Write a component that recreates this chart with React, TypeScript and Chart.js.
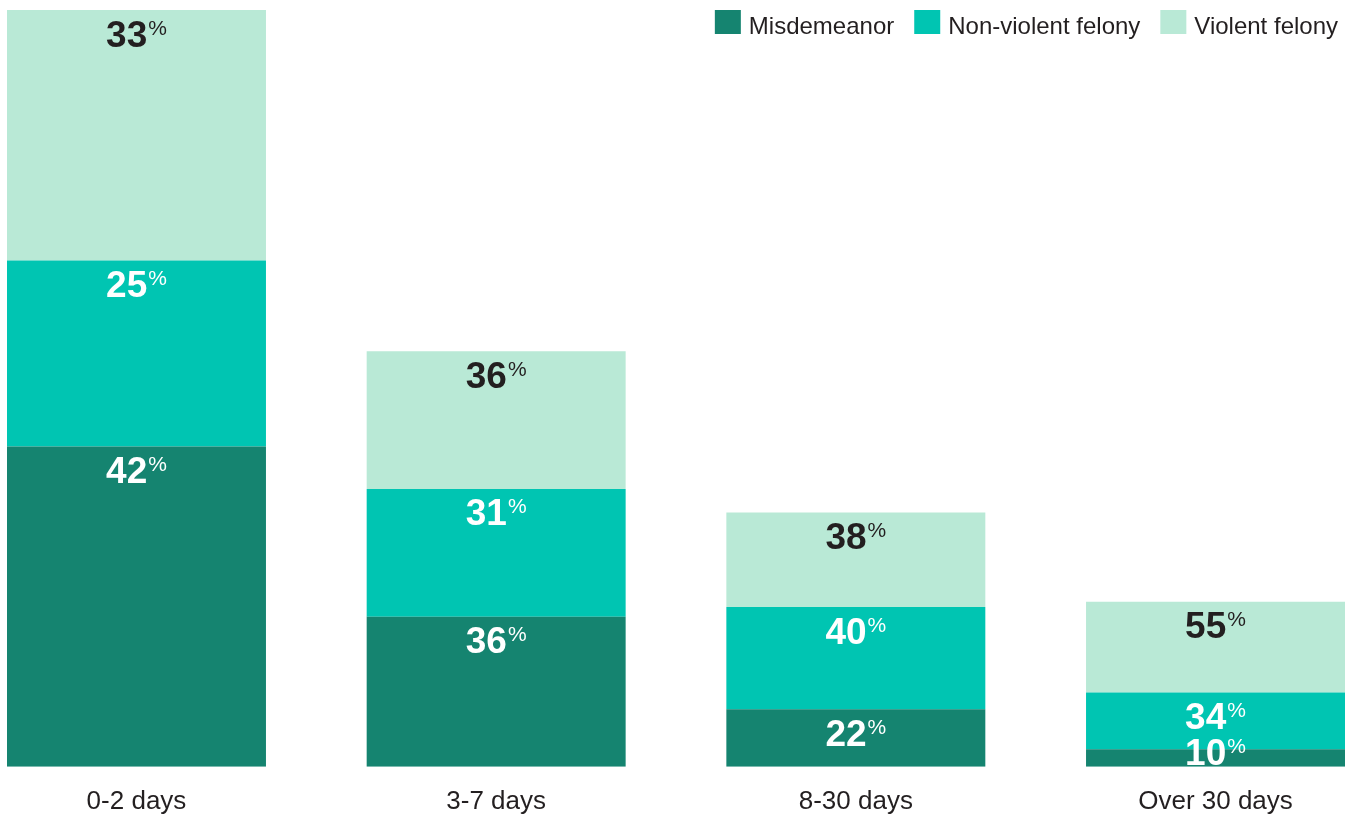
import React, { useEffect, useRef } from "react";
import { Chart, registerables } from "chart.js";

Chart.register(...registerables);

const categories = ["0-2 days", "3-7 days", "8-30 days", "Over 30 days"];
const seriesNames = ["Misdemeanor", "Non-violent felony", "Violent felony"];

// Segment sizes (relative, first bar total = 100)
const misdemeanor = [42.3, 19.8, 7.6, 2.3];
const nonViolent = [24.6, 16.9, 13.5, 7.5];
const violent = [33.1, 18.2, 12.5, 12.0];

// Percent labels shown on the segments
const misdemeanorPct = [42, 36, 22, 10];
const nonViolentPct = [25, 31, 40, 34];
const violentPct = [33, 36, 38, 55];

const colors = ["#158470", "#00C5B2", "#B9E9D6"];
const labelColors = ["#ffffff", "#ffffff", "#231f20"];
const FONT = "'Liberation Sans', Arial, Helvetica, sans-serif";

const pctLabelsPlugin = {
  id: "pctLabels",
  afterDatasetsDraw(chart: any) {
    const ctx = chart.ctx;
    const pcts = [misdemeanorPct, nonViolentPct, violentPct];
    chart.data.datasets.forEach((ds: any, di: number) => {
      const meta = chart.getDatasetMeta(di);
      meta.data.forEach((el: any, j: number) => {
        const top = Math.min(el.y, el.base);
        const bottom = Math.max(el.y, el.base);
        const num = String(pcts[di][j]);
        ctx.save();
        ctx.textBaseline = "alphabetic";
        ctx.textAlign = "left";
        ctx.font = `bold 37px ${FONT}`;
        const wNum = ctx.measureText(num).width;
        ctx.font = `21px ${FONT}`;
        const wPct = ctx.measureText("%").width;
        const total = wNum + 1 + wPct;
        const x0 = el.x - total / 2;
        let baseline = top + 36.5;
        if (baseline > bottom - 1.5) baseline = bottom - 1.5;
        ctx.fillStyle = labelColors[di];
        ctx.font = `bold 37px ${FONT}`;
        ctx.fillText(num, x0, baseline);
        ctx.font = `21px ${FONT}`;
        ctx.fillText("%", x0 + wNum + 1, baseline - 12);
        ctx.restore();
      });
    });
  },
};

const legendPlugin = {
  id: "customLegend",
  afterDraw(chart: any) {
    const ctx = chart.ctx;
    const rightEnd = 1338;
    const boxW = 26;
    const boxH = 24;
    const textGap = 8;
    const itemGap = 20;
    const boxTop = 10;
    ctx.save();
    ctx.font = `24px ${FONT}`;
    ctx.textBaseline = "alphabetic";
    ctx.textAlign = "left";
    const items = chart.data.datasets.map((ds: any) => ({
      label: ds.label,
      color: ds.backgroundColor,
      w: ctx.measureText(ds.label).width,
    }));
    let totalW = 0;
    items.forEach((it: any, i: number) => {
      totalW += boxW + textGap + it.w + (i > 0 ? itemGap : 0);
    });
    let x = rightEnd - totalW;
    items.forEach((it: any) => {
      ctx.fillStyle = it.color;
      ctx.fillRect(x, boxTop, boxW, boxH);
      ctx.fillStyle = "#231f20";
      ctx.fillText(it.label, x + boxW + textGap, boxTop + boxH);
      x += boxW + textGap + it.w + itemGap;
    });
    ctx.restore();
  },
};

export default function App() {
  const canvasRef = useRef<HTMLCanvasElement | null>(null);

  useEffect(() => {
    const canvas = canvasRef.current;
    if (!canvas) return;
    const series = [misdemeanor, nonViolent, violent];
    const chart = new Chart(canvas, {
      type: "bar",
      data: {
        datasets: series.map((vals, si) => ({
          label: seriesNames[si],
          data: vals.map((v, i) => ({ x: i, y: v })),
          backgroundColor: colors[si],
          borderWidth: 0,
          categoryPercentage: 0.8,
          barPercentage: 0.9,
        })),
      },
      options: {
        responsive: false,
        animation: false,
        devicePixelRatio: 1,
        layout: { padding: { left: 7, right: 6, top: 10, bottom: 0 } },
        plugins: {
          legend: { display: false },
          tooltip: { enabled: false },
        },
        scales: {
          x: {
            type: "linear",
            stacked: true,
            offset: false,
            min: -0.36,
            max: 3.36,
            grid: { display: false, drawTicks: false, offset: false },
            border: { display: false },
            ticks: {
              stepSize: 1,
              includeBounds: false,
              autoSkip: false,
              maxRotation: 0,
              padding: 20,
              color: "#231f20",
              font: { family: FONT, size: 26 },
              callback: (value: any) =>
                Number.isInteger(value) && categories[value] ? categories[value] : "",
            },
            afterFit: (scale: any) => {
              scale.height = 50.3;
            },
          },
          y: {
            stacked: true,
            display: false,
            min: 0,
            max: 100,
          },
        },
      },
      plugins: [pctLabelsPlugin, legendPlugin],
    } as any);
    return () => chart.destroy();
  }, []);

  return (
    <div style={{ position: "fixed", left: 0, top: 0, width: 1351, height: 817, background: "#fff" }}>
      <canvas ref={canvasRef} width={1351} height={817} style={{ display: "block" }} />
    </div>
  );
}
